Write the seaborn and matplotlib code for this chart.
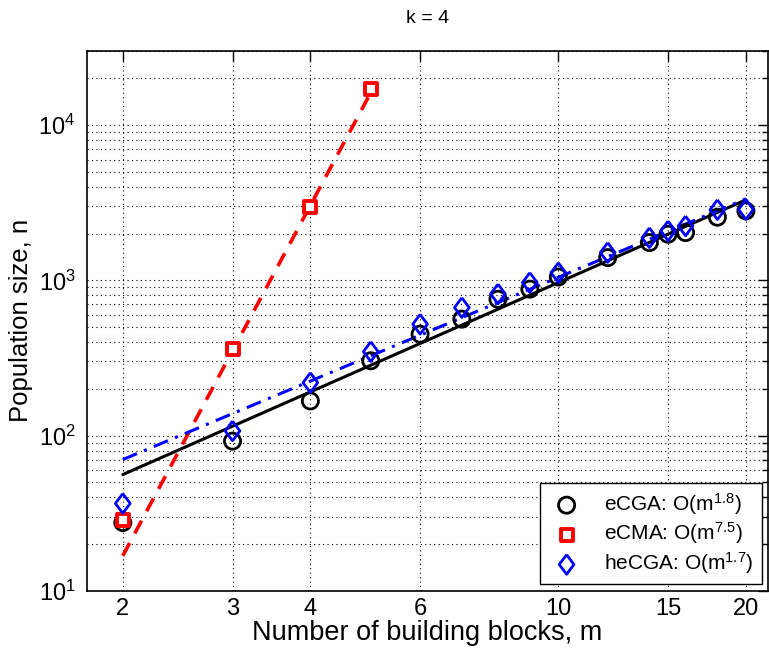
import numpy as np
import pandas as pd
import matplotlib
matplotlib.use("Agg")
import matplotlib.pyplot as plt
from matplotlib.ticker import FixedLocator, NullLocator, LogLocator, NullFormatter, FixedFormatter
import seaborn as sns

m_cga = [2, 3, 4, 5, 6, 7, 8, 9, 10, 12, 14, 15, 16, 18, 20]
n_ecga = [27.5, 92, 167, 303, 450, 562, 755, 877, 1050, 1400, 1750, 1980, 2030, 2550, 2800]
n_hecga = [36.5, 107, 219, 347, 521, 667, 817, 967, 1120, 1510, 1880, 2080, 2240, 2850, 2860]

m_cma = [2, 3, 4, 5]
n_ecma = [28.7, 363, 2970, 17000]

# fitted power-law lines, end points only (straight on log-log axes)
fit_ecga_x = [2, 20]
fit_ecga_y = [56, 3300]
fit_hecga_x = [2, 20]
fit_hecga_y = [70, 3350]
fit_ecma_x = [2, 5]
fit_ecma_y = [16.8, 16200]

labels = ['eCGA: O(m$^{1.8}$)', 'eCMA: O(m$^{7.5}$)', 'heCGA: O(m$^{1.7}$)']
xticks = [2, 3, 4, 6, 10, 15, 20]

sns.set_theme(style="white")
plt.rcParams['font.family'] = ['Liberation Sans', 'DejaVu Sans']
plt.rcParams['mathtext.default'] = 'regular'
plt.rcParams['text.color'] = 'black'
plt.rcParams['axes.labelcolor'] = 'black'

fig = plt.figure(figsize=(7.69, 6.51), dpi=100)
ax = fig.add_axes([0.1127, 0.0926, 0.886, 0.829])

# fit lines
sns.lineplot(x=fit_ecga_x, y=fit_ecga_y, ax=ax, color='black', lw=2.2, zorder=3)
sns.lineplot(x=fit_ecma_x, y=fit_ecma_y, ax=ax, color='red', lw=2.6, zorder=3)
sns.lineplot(x=fit_hecga_x, y=fit_hecga_y, ax=ax, color='blue', lw=2.2, zorder=3)
ax.lines[1].set_dashes([4, 3])
ax.lines[2].set_dashes([5, 2.5, 1, 2.5])

diamond = [(0, 1), (0.75, 0), (0, -1), (-0.75, 0), (0, 1)]

sns.scatterplot(x=m_cga, y=n_ecga, ax=ax, marker='o', s=135, facecolor='none',
                edgecolor='black', linewidth=2, label=labels[0], zorder=4)
sns.scatterplot(x=m_cma, y=n_ecma, ax=ax, marker='s', s=85, facecolor='white',
                edgecolor='red', linewidth=2.8, label=labels[1], zorder=4)
sns.scatterplot(x=m_cga, y=n_hecga, ax=ax, marker=diamond, s=200, facecolor='none',
                edgecolor='blue', linewidth=2, label=labels[2], zorder=5)

ax.set_xscale('log')
ax.set_yscale('log')
ax.set_xlim(1.75, 21.7)
ax.set_ylim(10, 30000)

ax.xaxis.set_major_locator(FixedLocator(xticks))
ax.xaxis.set_major_formatter(FixedFormatter([str(t) for t in xticks]))
ax.xaxis.set_minor_locator(NullLocator())
ax.yaxis.set_major_locator(LogLocator(base=10))
ax.yaxis.set_minor_locator(LogLocator(base=10, subs=np.arange(2, 10)))
ax.yaxis.set_minor_formatter(NullFormatter())

ax.grid(True, which='major', axis='both', color='black', linestyle=(0, (1, 3)), lw=0.8)
ax.grid(True, which='minor', axis='y', color='black', linestyle=(0, (1, 3)), lw=0.8)

ax.tick_params(which='both', direction='in', top=True, right=True, colors='black',
               labelsize=17, width=1)
ax.tick_params(which='major', length=7)
ax.tick_params(which='minor', length=4)
ax.tick_params(axis='y', pad=8)
ax.tick_params(axis='x', pad=5)
for sp in ax.spines.values():
    sp.set_color('black')
    sp.set_linewidth(1.2)

ax.set_xlabel('Number of building blocks, m', fontsize=19.5, labelpad=0, color='black')
ax.set_ylabel('Population size, n', fontsize=18.5, labelpad=4, color='black')
ax.set_title('k = 4', fontsize=14, pad=20, color='black')

leg = ax.legend(loc='lower right', fontsize=15, frameon=True, fancybox=False,
                edgecolor='black', framealpha=1, borderaxespad=0.3,
                handletextpad=0.9, labelspacing=0.18, borderpad=0.4,
                handlelength=1.8)
leg.get_frame().set_linewidth(1)
for t in leg.get_texts():
    t.set_color('black')

fig.savefig('out.png', dpi=100)
